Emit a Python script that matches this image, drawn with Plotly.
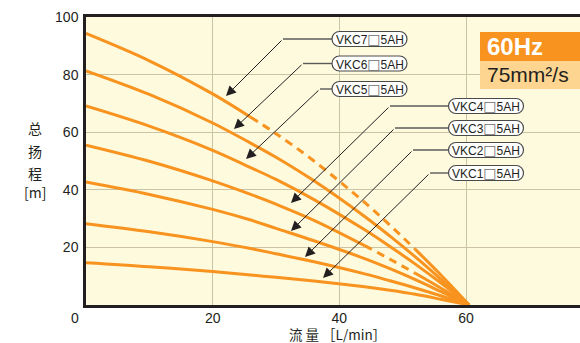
import plotly.graph_objects as go

# ---------------- data ----------------
flow = [0, 10, 20, 26, 30, 36, 44, 48, 52, 56, 60.5]          # L/min
vkc7 = [94.3, 84.8, 73.3, 65.2, 59.5, 50.0, 35.6, 27.7, 19.3, 10.5, 0]
vkc6 = [81.3, 73.1, 63.2, 56.2, 51.3, 43.1, 30.7, 23.9, 16.7, 9.0, 0]
vkc5 = [69.1, 62.1, 53.7, 47.7, 43.6, 36.6, 26.1, 20.3, 14.2, 7.7, 0]
vkc4 = [55.5, 49.9, 43.1, 38.4, 35.0, 29.4, 20.6, 15.9, 11.0, 5.9, 0]
vkc3 = [42.7, 38.4, 33.2, 29.5, 26.6, 22.3, 16.1, 12.6, 8.8, 4.7, 0]
vkc2 = [28.2, 25.4, 22.0, 19.6, 17.8, 15.0, 10.8, 8.4, 5.9, 3.2, 0]
vkc1 = [14.7, 13.3, 11.6, 10.4, 9.6, 8.3, 6.3, 5.1, 3.7, 2.0, 0]

series_names = ["VKC7", "VKC6", "VKC5", "VKC4", "VKC3", "VKC2", "VKC1"]
series_values = [vkc7, vkc6, vkc5, vkc4, vkc3, vkc2, vkc1]
series_labels = ["VKC7□5AH", "VKC6□5AH", "VKC5□5AH", "VKC4□5AH",
                 "VKC3□5AH", "VKC2□5AH", "VKC1□5AH"]
dashed_ranges = {"VKC7": (26, 52), "VKC4": (44, 52)}

x_ticks = [20, 40, 60]
y_ticks = [20, 40, 60, 80, 100]
x_title = "流\u00a0量\u00a0［L/min］"
y_title_chars = ["总", "扬", "程", "[m]"]
freq_text = "60Hz"
visc_text = "75mm²/s"

# ---------------- layout constants (pixels) ----------------
W, H = 580, 343
L, R, T, B = 86, 0, 17, 38
XMAX, YMAX = 78, 100
PW, PH = W - L - R, H - T - B

ORANGE = "#f7931e"
BG = "#fefade"
GRID = "#cbc3a3"
DARK = "#231f20"
FONT = "Liberation Sans, Arial, sans-serif"
CJK = "Noto Sans CJK SC, sans-serif"


def px2x(px):
    return (px - L) / PW * XMAX


def py2y(py):
    return (T + PH - py) / PH * YMAX


def px2p(px):
    return (px - L) / PW


def py2p(py):
    return (T + PH - py) / PH


fig = go.Figure()

for name, ys in zip(series_names, series_values):
    if name in dashed_ranges:
        a, b = dashed_ranges[name]
        segs = [
            ([q for q in flow if q <= a], "solid"),
            ([q for q in flow if a <= q <= b], "8px,6px"),
            ([q for q in flow if q >= b], "solid"),
        ]
        for qs, dash in segs:
            yv = [ys[flow.index(q)] for q in qs]
            fig.add_trace(go.Scatter(x=qs, y=yv, mode="lines", name=name,
                                     line=dict(color=ORANGE, width=3, dash=dash,
                                               shape="spline", smoothing=1.0),
                                     showlegend=False, hoverinfo="skip"))
    else:
        fig.add_trace(go.Scatter(x=flow, y=ys, mode="lines", name=name,
                                 line=dict(color=ORANGE, width=3,
                                           shape="spline", smoothing=1.0),
                                 showlegend=False, hoverinfo="skip"))

# label boxes / leaders (pixel positions): box centre, bend point, arrow tip
label_pos = [
    (369.5, 39, 283, 39, 226, 96),
    (369.5, 63.5, 303, 63.5, 234, 129),
    (369.5, 89, 320, 89, 246, 159),
    (486, 106, 390, 106, 291, 203),
    (486, 128, 395, 128, 291, 231),
    (486, 150, 413, 150, 305, 257),
    (486, 173, 430, 173, 323, 278),
]
BOX_W, BOX_H = 75, 15

shapes = []
annotations = []


def pill_path(w, h):
    r = h
    k = 0.5523 * r
    return (f"M {-w + r},{-h} L {w - r},{-h} "
            f"C {w - r + k},{-h} {w},{-k} {w},0 "
            f"C {w},{k} {w - r + k},{h} {w - r},{h} "
            f"L {-w + r},{h} "
            f"C {-w + r - k},{h} {-w},{k} {-w},0 "
            f"C {-w},{-k} {-w + r - k},{-h} {-w + r},{-h} Z")


def box_text(t):
    head, tail = t.split("□")
    return (f"{head}<span style=\"font-family:'DejaVu Sans';font-size:14px;"
            f"color:#707070\">□</span>{tail}")


for text, (cx, cy, bx, by, tx, ty) in zip(series_labels, label_pos):
    shapes.append(dict(type="line", xref="x", yref="y",
                       x0=px2x(bx), y0=py2y(by), x1=px2x(cx - BOX_W / 2), y1=py2y(by),
                       line=dict(color="#5a5a5a", width=1.4)))
    annotations.append(dict(x=px2x(tx), y=py2y(ty), xref="x", yref="y",
                            ax=px2x(bx), ay=py2y(by), axref="x", ayref="y",
                            text="", showarrow=True, arrowhead=2, arrowsize=2.0,
                            arrowwidth=1, arrowcolor=DARK, standoff=0))
    shapes.append(dict(type="path", xref="x", yref="y",
                       xsizemode="pixel", ysizemode="pixel",
                       xanchor=px2x(cx), yanchor=py2y(cy),
                       path=pill_path(BOX_W / 2, BOX_H / 2),
                       fillcolor="white", line=dict(color="#4a4a4a", width=1.2)))
    annotations.append(dict(x=px2x(cx), y=py2y(cy), xref="x", yref="y",
                            text=box_text(text), showarrow=False,
                            font=dict(family=FONT, size=12, color=DARK),
                            xanchor="center", yanchor="middle"))

# 60Hz / viscosity boxes
shapes.append(dict(type="rect", xref="paper", yref="paper",
                   x0=px2p(480), x1=1.0, y0=py2p(61), y1=py2p(32),
                   fillcolor="#f7931e", line=dict(width=0)))
shapes.append(dict(type="rect", xref="paper", yref="paper",
                   x0=px2p(480), x1=1.0, y0=py2p(89), y1=py2p(61),
                   fillcolor="#fdd591", line=dict(width=0)))
annotations.append(dict(x=px2p(485), y=py2p(46.5), xref="paper", yref="paper",
                        text=f"<b>{freq_text}</b>", showarrow=False,
                        xanchor="left", yanchor="middle",
                        font=dict(family=FONT, size=24, color="white")))
annotations.append(dict(x=px2p(485), y=py2p(75), xref="paper", yref="paper",
                        text=visc_text, showarrow=False,
                        xanchor="left", yanchor="middle",
                        font=dict(family=FONT, size=21, color=DARK)))

# origin label
annotations.append(dict(x=px2p(75), y=py2p(318), xref="paper", yref="paper",
                        text="0", showarrow=False, xanchor="center", yanchor="middle",
                        font=dict(family=FONT, size=14, color=DARK)))

# axis titles
for yy, ch in zip([127.5, 151, 172.5, 192], y_title_chars):
    annotations.append(dict(x=px2p(35), y=py2p(yy), xref="paper", yref="paper",
                            text=ch, showarrow=False, xanchor="center", yanchor="middle",
                            font=dict(family=CJK, size=14, color=DARK)))
annotations.append(dict(x=px2p(337), y=py2p(334), xref="paper", yref="paper",
                        text=x_title, showarrow=False, xanchor="center", yanchor="middle",
                        font=dict(family=CJK, size=13.5, color=DARK)))

fig.update_layout(
    width=W, height=H,
    margin=dict(l=L, r=R, t=T, b=B, pad=0),
    paper_bgcolor="white", plot_bgcolor=BG,
    showlegend=False,
    shapes=shapes, annotations=annotations,
    xaxis=dict(range=[0, XMAX], tickvals=x_ticks, ticktext=[str(v) for v in x_ticks],
               showgrid=True, gridcolor=GRID, gridwidth=1.2, zeroline=False,
               showline=True, linecolor=DARK, linewidth=2.5, mirror=True,
               ticks="", ticklabelstandoff=-2, automargin=False, fixedrange=True,
               tickfont=dict(family=FONT, size=14, color=DARK)),
    yaxis=dict(range=[0, YMAX], tickvals=y_ticks, ticktext=[str(v) for v in y_ticks],
               showgrid=True, gridcolor=GRID, gridwidth=1.2, zeroline=False,
               showline=True, linecolor=DARK, linewidth=2.5,
               ticks="", ticklabelstandoff=2, automargin=False, fixedrange=True,
               tickfont=dict(family=FONT, size=14, color=DARK)),
)

fig.write_html("out.html", config={"displayModeBar": False},
               post_script="document.body.style.margin='0px';document.body.style.padding='0px';")
